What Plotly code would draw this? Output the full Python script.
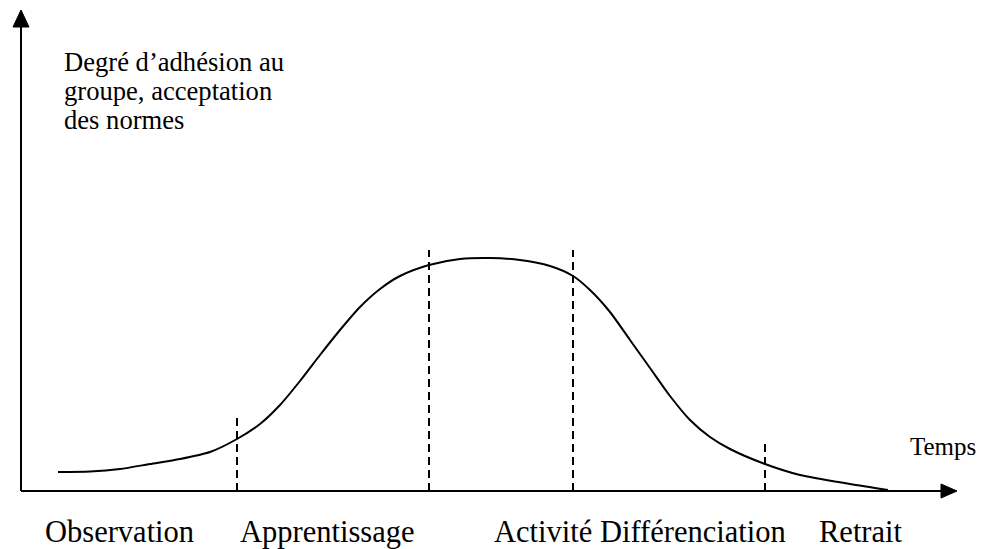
import plotly.graph_objects as go

# ---- data (time in arbitrary units from origin, level = degree of adhesion) ----
time = [37, 69, 99, 129, 159, 189, 216, 239, 259, 279, 299, 319, 339, 359, 379, 408,
        439, 469, 499, 529, 552, 569, 589, 609, 629, 649, 669, 689, 709, 744, 779, 829, 867]
level = [19, 19.5, 22, 27, 32, 39, 52, 67, 86, 110, 136, 161, 184, 202, 215, 226,
         232, 233, 231, 225, 215, 201, 179, 151, 123, 95, 71, 54, 42, 27, 16, 7, 1]

boundaries = [216, 408, 552, 744]
boundary_tops = [73, 241, 241, 49]

phases = ["Observation", "Apprentissage", "Activité", "Différenciation", "Retrait"]
phase_x = [22, 217, 471, 577, 796]

y_title_lines = ["Degré d’adhésion au", "groupe, acceptation", "des normes"]
x_title = "Temps"

FONT = "Liberation Serif"

fig = go.Figure()

# curve
fig.add_trace(go.Scatter(x=time, y=level, mode="lines",
                         line=dict(color="black", width=2, shape="spline", smoothing=0.7),
                         hoverinfo="skip", showlegend=False))

# dashed phase boundaries
for bx, bt in zip(boundaries, boundary_tops):
    fig.add_trace(go.Scatter(x=[bx, bx], y=[0, bt], mode="lines",
                             line=dict(color="black", width=2, dash="8px,5px"),
                             hoverinfo="skip", showlegend=False))

shapes = [
    # y axis
    dict(type="line", xref="x", yref="y", x0=0, y0=0, x1=0, y1=466,
         line=dict(color="black", width=2)),
    dict(type="path", xref="x", yref="y", path="M -8 464 L 8 464 L 0 481 Z",
         fillcolor="black", line=dict(color="black", width=1)),
    # x axis
    dict(type="line", xref="x", yref="y", x0=0, y0=0, x1=922, y1=0,
         line=dict(color="black", width=2)),
    dict(type="path", xref="x", yref="y", path="M 920 7 L 920 -7 L 936 0 Z",
         fillcolor="black", line=dict(color="black", width=1)),
]

annotations = []
for i, t in enumerate(y_title_lines):
    annotations.append(dict(x=41, y=429 - 29 * i, xref="x", yref="y", text=t,
                            showarrow=False, xanchor="left", yanchor="middle",
                            font=dict(family=FONT, size=26.6, color="black")))
annotations.append(dict(x=887, y=45, xref="x", yref="y", text=x_title,
                        showarrow=False, xanchor="left", yanchor="middle",
                        font=dict(family=FONT, size=25, color="black")))
for name, px in zip(phases, phase_x):
    annotations.append(dict(x=px, y=-41, xref="x", yref="y", text=name,
                            showarrow=False, xanchor="left", yanchor="middle",
                            font=dict(family=FONT, size=30.5, color="black")))

fig.update_layout(
    width=981, height=549,
    margin=dict(l=0, r=0, t=0, b=0),
    paper_bgcolor="white", plot_bgcolor="white",
    xaxis=dict(range=[-21, 960], visible=False, fixedrange=True),
    yaxis=dict(range=[-58, 491], visible=False, fixedrange=True),
    shapes=shapes, annotations=annotations,
    showlegend=False,
)

fig.write_html("out.html", config={"displayModeBar": False},
               post_script="document.body.style.margin='0';document.body.style.overflow='hidden';")
